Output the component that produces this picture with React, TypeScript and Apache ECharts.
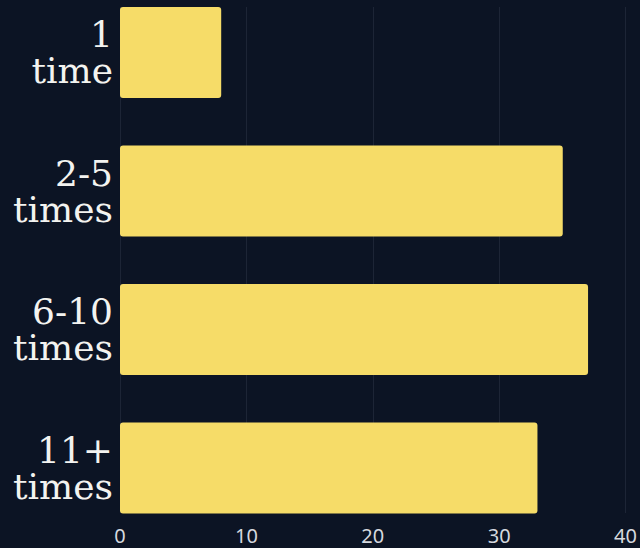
import React, { useEffect, useRef } from "react";
import * as echarts from "echarts";

const categories = ["1\ntime", "2-5\ntimes", "6-10\ntimes", "11+\ntimes"];
const values = [8, 35, 37, 33];
const xTicks = [0, 10, 20, 30, 40];

const BG = "#0c1424";
const BAR = "#f6dc68";

export default function App() {
  const ref = useRef<HTMLDivElement>(null);
  useEffect(() => {
    if (!ref.current) return;
    const chart = echarts.init(ref.current, undefined, { renderer: "svg" });
    chart.setOption({
      animation: false,
      backgroundColor: BG,
      grid: [
        { left: 120, right: 14, top: 7, bottom: 35 },
        { left: 120, right: 14, top: 52.5, bottom: 80 },
      ],
      xAxis: [
        {
          gridIndex: 0,
          type: "value",
          min: xTicks[0],
          max: xTicks[xTicks.length - 1],
          interval: 10,
          axisLine: { show: false },
          axisTick: { show: false },
          splitLine: { show: true, lineStyle: { color: "#1d2536", width: 1 } },
          axisLabel: {
            color: "#d6d9df",
            fontSize: 20,
            fontFamily: "Noto Sans",
            margin: 12,
          },
        },
        {
          gridIndex: 1,
          type: "value",
          min: xTicks[0],
          max: xTicks[xTicks.length - 1],
          show: false,
          splitLine: { show: false },
        },
      ],
      yAxis: [
        {
          gridIndex: 0,
          type: "category",
          data: categories,
          inverse: true,
          show: false,
        },
        {
          gridIndex: 1,
          type: "category",
          data: categories,
          inverse: true,
          boundaryGap: false,
          axisLine: { show: false },
          axisTick: { show: false },
          splitLine: { show: false },
          axisLabel: {
            color: "#f3f3f0",
            fontSize: 36,
            lineHeight: 36,
            fontFamily: "DejaVu Serif",
            margin: 7,
            align: "right",
          },
        },
      ],
      series: [
        {
          type: "bar",
          xAxisIndex: 1,
          yAxisIndex: 1,
          data: values,
          barWidth: 91,
          clip: false,
          itemStyle: { color: BAR, borderRadius: 3 },
        },
      ],
    });
    return () => chart.dispose();
  }, []);
  return (
    <div
      ref={ref}
      style={{ position: "fixed", left: 0, top: 0, width: 640, height: 548, background: BG }}
    />
  );
}
